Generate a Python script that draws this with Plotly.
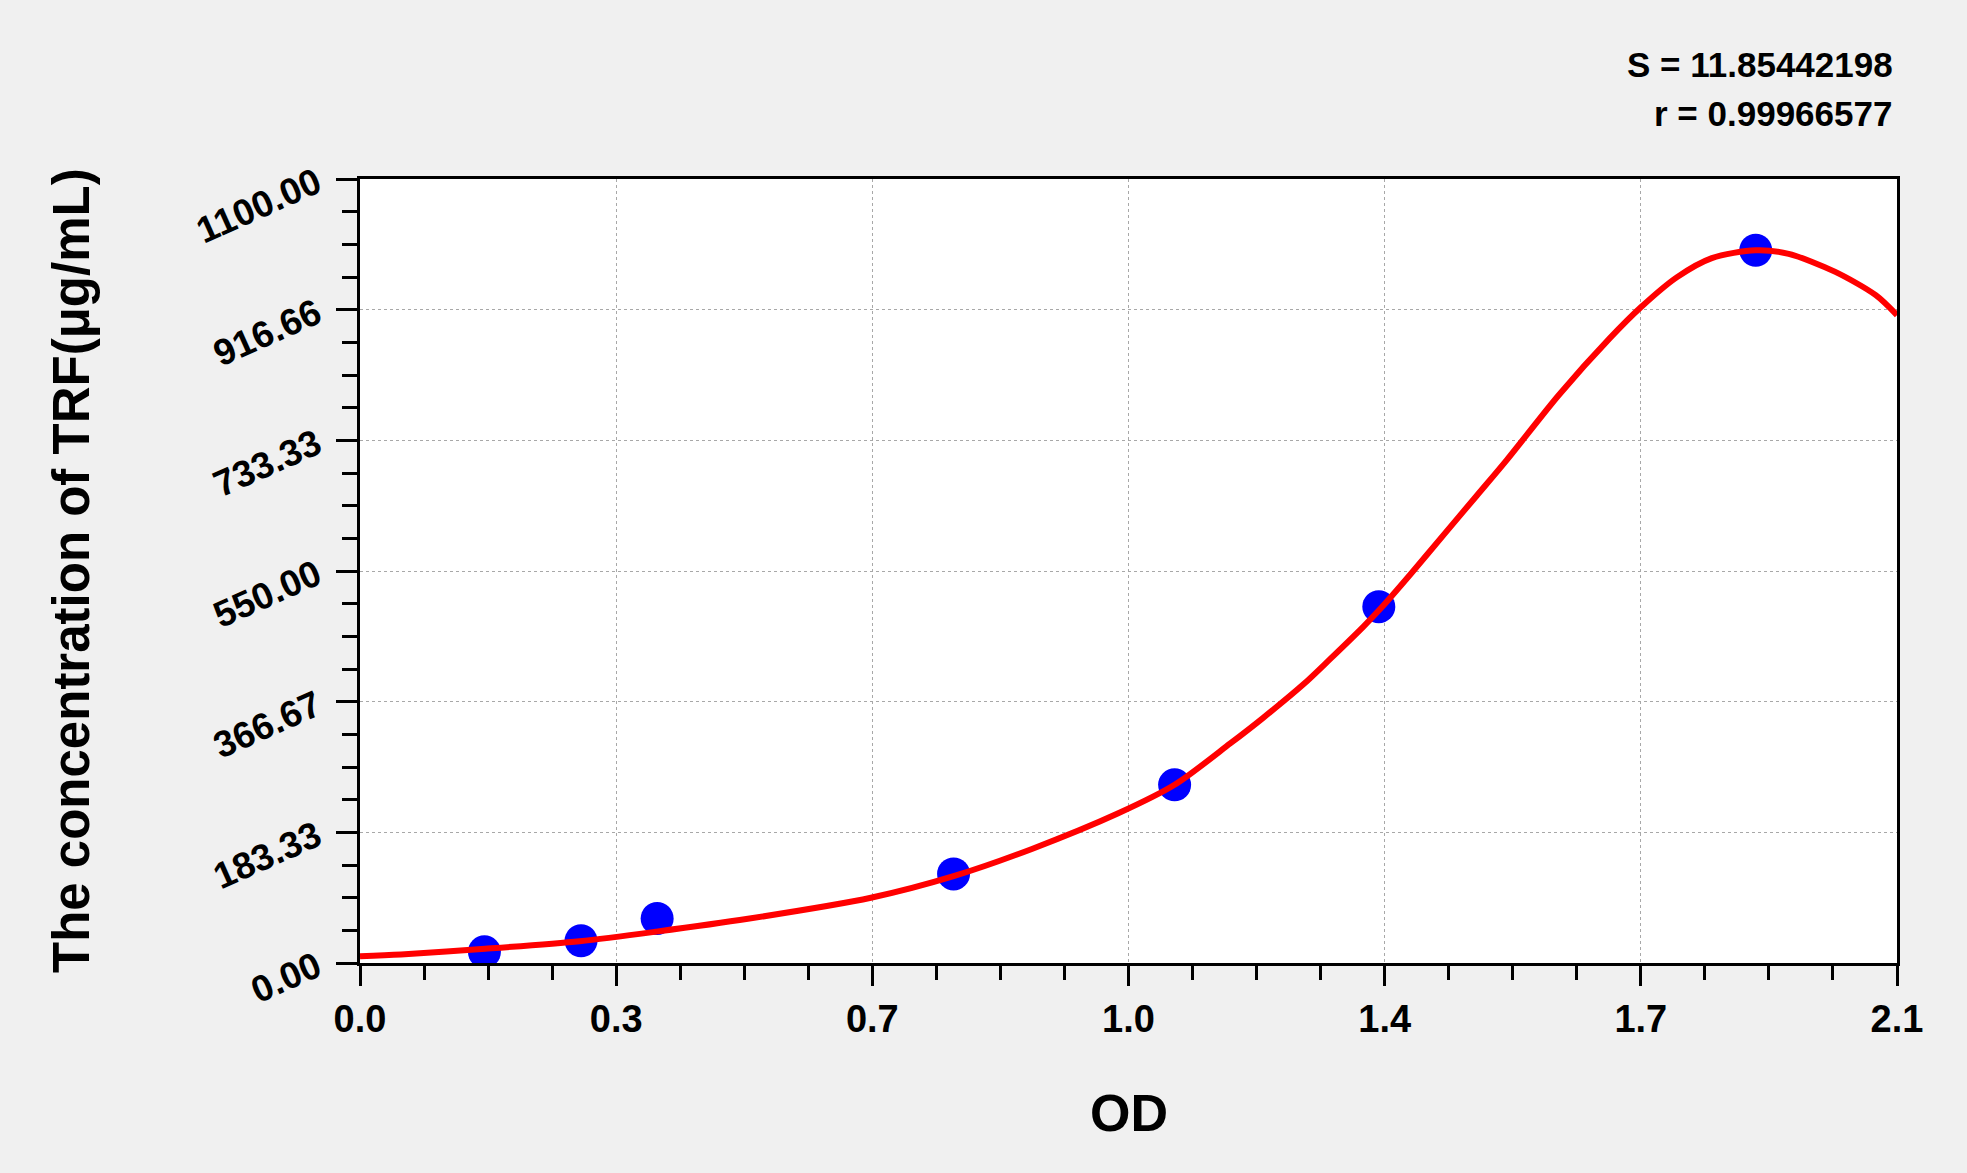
import plotly.graph_objects as go

# Standards (measured points)
od_points = [0.170, 0.302, 0.406, 0.811, 1.113, 1.392, 1.907]
conc_points = [15.625, 31.25, 62.5, 125.0, 250.0, 500.0, 1000.0]

# Fitted curve
curve_od = [0.000, 0.056, 0.171, 0.300, 0.405, 0.530, 0.698, 0.811, 0.918, 1.036,
            1.113, 1.189, 1.234, 1.289, 1.325, 1.371, 1.396, 1.435, 1.480, 1.526,
            1.567, 1.638, 1.708, 1.750, 1.799, 1.847, 1.907, 1.952, 2.015, 2.071,
            2.100]
curve_conc = [9.5, 11.9, 19.9, 30.6, 44.0, 62.0, 91.5, 121.8, 160.0, 210.0,
              250.0, 308.0, 344.0, 391.0, 426.0, 472.0, 499.0, 545.0, 600.0, 656.0,
              706.0, 797.0, 877.0, 920.0, 962.0, 989.0, 1000.0, 995.0, 970.0, 937.0,
              909.0]

x_tickvals = [0.0, 0.35, 0.7, 1.05, 1.4, 1.75, 2.1]
x_ticktext = ["0.0", "0.3", "0.7", "1.0", "1.4", "1.7", "2.1"]
y_tickvals = [0.0, 183.33, 366.67, 550.0, 733.33, 916.66, 1100.0]
y_ticktext = ["0.00", "183.33", "366.67", "550.00", "733.33", "916.66", "1100.00"]

stat_s = "S = 11.85442198"
stat_r = "r = 0.99966577"
x_title = "OD"
y_title = "The concentration of TRF(μg/mL)"

FONT = "Arial, Liberation Sans, sans-serif"

fig = go.Figure()
fig.add_trace(go.Scatter(
    x=od_points, y=conc_points, mode="markers",
    marker=dict(color="#0000ff", size=33, line=dict(width=0)),
    showlegend=False, hoverinfo="skip"))
fig.add_trace(go.Scatter(
    x=curve_od, y=curve_conc, mode="lines",
    line=dict(color="#ff0000", width=6, shape="spline", smoothing=0.8),
    showlegend=False, hoverinfo="skip"))

axis_common = dict(
    showline=True, linecolor="black", linewidth=3, mirror=True,
    ticks="outside", tickcolor="black", tickwidth=3,
    showgrid=True, gridcolor="#a8a8a8", gridwidth=1, griddash="3px,3px",
    zeroline=False,
)

fig.update_xaxes(
    range=[0, 2.1], tickmode="array", tickvals=x_tickvals, ticktext=x_ticktext,
    ticklen=20,
    tickfont=dict(family=FONT, size=38, color="black", weight="bold"),
    minor=dict(tickmode="linear", tick0=0, dtick=0.0875, ticklen=14, tickwidth=3,
               tickcolor="black", ticks="outside", showgrid=False),
    **axis_common)
fig.update_yaxes(
    range=[0, 1100], tickmode="array", tickvals=y_tickvals, ticktext=y_ticktext,
    ticklen=21, tickangle=-24, ticklabelstandoff=12,
    tickfont=dict(family=FONT, size=37, color="black", weight="bold"),
    minor=dict(tickmode="linear", tick0=0, dtick=1100 / 24, ticklen=15, tickwidth=3,
               tickcolor="black", ticks="outside", showgrid=False),
    **axis_common)

ann_font = dict(family=FONT, color="black", weight="bold")
fig.update_layout(
    width=1967, height=1173,
    paper_bgcolor="#f0f0f0", plot_bgcolor="white",
    margin=dict(l=360, r=70, t=179, b=210),
    annotations=[
        dict(text=stat_s, x=1, y=1, xref="paper", yref="paper", xanchor="right",
             yanchor="middle", xshift=-2, yshift=115, showarrow=False,
             font=dict(size=35, **ann_font)),
        dict(text=stat_r, x=1, y=1, xref="paper", yref="paper", xanchor="right",
             yanchor="middle", xshift=-3, yshift=66, showarrow=False,
             font=dict(size=35, **ann_font)),
        dict(text=x_title, x=0.5, y=0, xref="paper", yref="paper", xanchor="center",
             yanchor="middle", yshift=-150, showarrow=False,
             font=dict(size=52, **ann_font)),
        dict(text=y_title, x=0, y=0.5, xref="paper", yref="paper", xanchor="center",
             yanchor="middle", xshift=-289, textangle=-90, showarrow=False,
             font=dict(size=51, **ann_font)),
    ],
)

fig.write_html(
    "out.html",
    config={"displayModeBar": False},
    post_script="document.body.style.margin='0';document.body.style.background='#f0f0f0';",
)
